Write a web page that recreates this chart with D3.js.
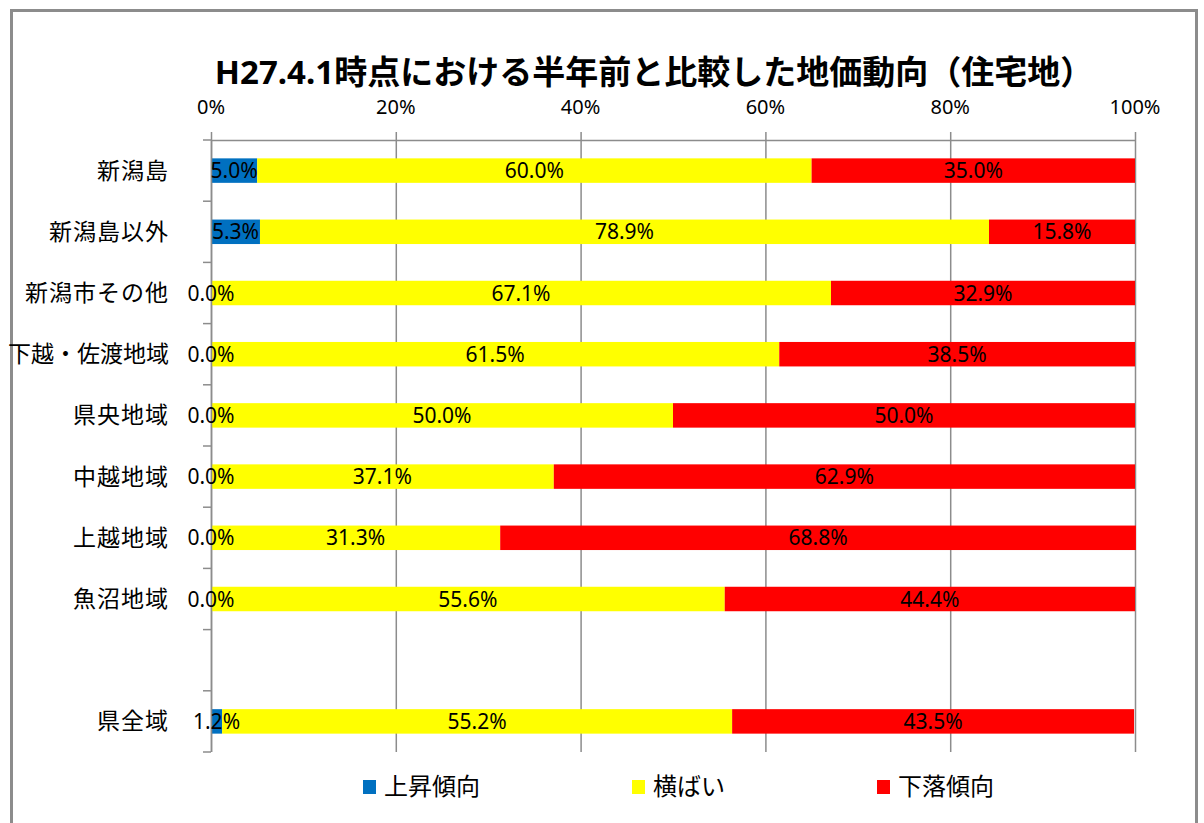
<!DOCTYPE html>
<html>
<head>
<meta charset="utf-8">
<script src="https://cdn.jsdelivr.net/npm/d3@7"></script>
<style>
  body { margin: 0; background: #fff; }
  svg text { font-family: "Noto Sans", "Noto Sans CJK JP", sans-serif; fill: #000; }
</style>
</head>
<body>
<svg id="chart" width="1204" height="823"></svg>
<script>
var categories = ["新潟島", "新潟島以外", "新潟市その他", "下越・佐渡地域", "県央地域", "中越地域", "上越地域", "魚沼地域", "", "県全域"];
var seriesNames = ["上昇傾向", "横ばい", "下落傾向"];
var seriesColors = ["#0070C0", "#FFFF00", "#FF0000"];
var rising = [5.0, 5.3, 0.0, 0.0, 0.0, 0.0, 0.0, 0.0, null, 1.2];
var flat = [60.0, 78.9, 67.1, 61.5, 50.0, 37.1, 31.3, 55.6, null, 55.2];
var falling = [35.0, 15.8, 32.9, 38.5, 50.0, 62.9, 68.8, 44.4, null, 43.5];
var tickValues = [0, 20, 40, 60, 80, 100];

var svg = d3.select("#chart");

// outer frame
svg.append("rect")
    .attr("x", 11.5).attr("y", 10.5)
    .attr("width", 1185).attr("height", 840)
    .attr("fill", "none")
    .attr("stroke", "#8c8c8c")
    .attr("stroke-width", 3);

svg.append("text")
    .attr("x", 654).attr("y", 84)
    .attr("text-anchor", "middle")
    .style("font-size", "33px")
    .style("font-weight", "bold")
    .text("H27.4.1時点における半年前と比較した地価動向（住宅地）");

var plotLeft = 211, plotRight = 1135, plotTop = 140, plotBottom = 752;

var x = d3.scaleLinear().domain([0, 100]).range([plotLeft, plotRight]);
var y = d3.scaleBand().domain(d3.range(categories.length)).range([plotTop, plotBottom]).paddingInner(0.6).paddingOuter(0.3);

var rows = categories.map(function (c, i) {
    return { cat: c, vals: [rising[i], flat[i], falling[i]] };
});

// grid lines
svg.append("g").selectAll("line")
    .data(tickValues)
    .enter().append("line")
    .attr("x1", function (d) { return x(d) + 0.5; })
    .attr("x2", function (d) { return x(d) + 0.5; })
    .attr("y1", plotTop - 8)
    .attr("y2", plotBottom)
    .attr("stroke", "#8c8c8c")
    .attr("stroke-width", 1.5);

// top axis line
svg.append("line")
    .attr("x1", plotLeft).attr("x2", plotRight)
    .attr("y1", plotTop + 0.5).attr("y2", plotTop + 0.5)
    .attr("stroke", "#8c8c8c").attr("stroke-width", 1.5);

// top tick labels
svg.append("g").selectAll("text")
    .data(tickValues)
    .enter().append("text")
    .attr("x", function (d) { return x(d); })
    .attr("y", 114)
    .attr("text-anchor", "middle")
    .style("font-size", "20px")
    .text(function (d) { return d + "%"; });

// category tick marks
var bandStep = (plotBottom - plotTop) / categories.length;
svg.append("g").selectAll("line")
    .data(d3.range(categories.length + 1))
    .enter().append("line")
    .attr("x1", plotLeft - 8).attr("x2", plotLeft)
    .attr("y1", function (d) { return plotTop + d * bandStep; })
    .attr("y2", function (d) { return plotTop + d * bandStep; })
    .attr("stroke", "#8c8c8c").attr("stroke-width", 1.5);

// category labels
svg.append("g").selectAll("text")
    .data(categories)
    .enter().append("text")
    .attr("x", 169)
    .attr("y", function (d, i) { return y(i) + y.bandwidth() / 2; })
    .attr("dy", "0.35em")
    .attr("text-anchor", "end")
    .style("font-size", "23px")
    .style("letter-spacing", function (d) { return d.indexOf("・") >= 0 ? "0px" : "1px"; })
    .text(function (d) { return d; });

// stacked bars
rows.forEach(function (r, i) {
    if (r.vals[0] == null) return;
    var start = 0;
    r.vals.forEach(function (v, k) {
        var x0 = x(start), x1 = x(start + v);
        svg.append("rect")
            .attr("x", x0)
            .attr("y", y(i))
            .attr("width", x1 - x0)
            .attr("height", y.bandwidth())
            .attr("fill", seriesColors[k]);
        start += v;
    });
});

// vertical axis line
svg.append("line")
    .attr("x1", plotLeft + 0.5).attr("x2", plotLeft + 0.5)
    .attr("y1", plotTop).attr("y2", plotBottom)
    .attr("stroke", "#8c8c8c").attr("stroke-width", 1.5);

// data labels
rows.forEach(function (r, i) {
    if (r.vals[0] == null) return;
    var start = 0;
    r.vals.forEach(function (v, k) {
        svg.append("text")
            .attr("x", (x(start) + x(start + v)) / 2)
            .attr("y", y(i) + y.bandwidth() / 2)
            .attr("dy", "0.36em")
            .attr("text-anchor", "middle")
            .style("font-size", "21px")
            .text(v.toFixed(1) + "%");
        start += v;
    });
});

// legend
var legendX = [363, 632, 877];
var legend = svg.append("g").selectAll("g")
    .data(seriesNames)
    .enter().append("g")
    .attr("transform", function (d, i) { return "translate(" + legendX[i] + ",787)"; });
legend.append("rect")
    .attr("x", 0).attr("y", -7)
    .attr("width", 13).attr("height", 14)
    .attr("fill", function (d, i) { return seriesColors[i]; });
legend.append("text")
    .attr("x", 21).attr("y", 0)
    .attr("dy", "0.35em")
    .style("font-size", "24px")
    .text(function (d) { return d; });
</script>
</body>
</html>
